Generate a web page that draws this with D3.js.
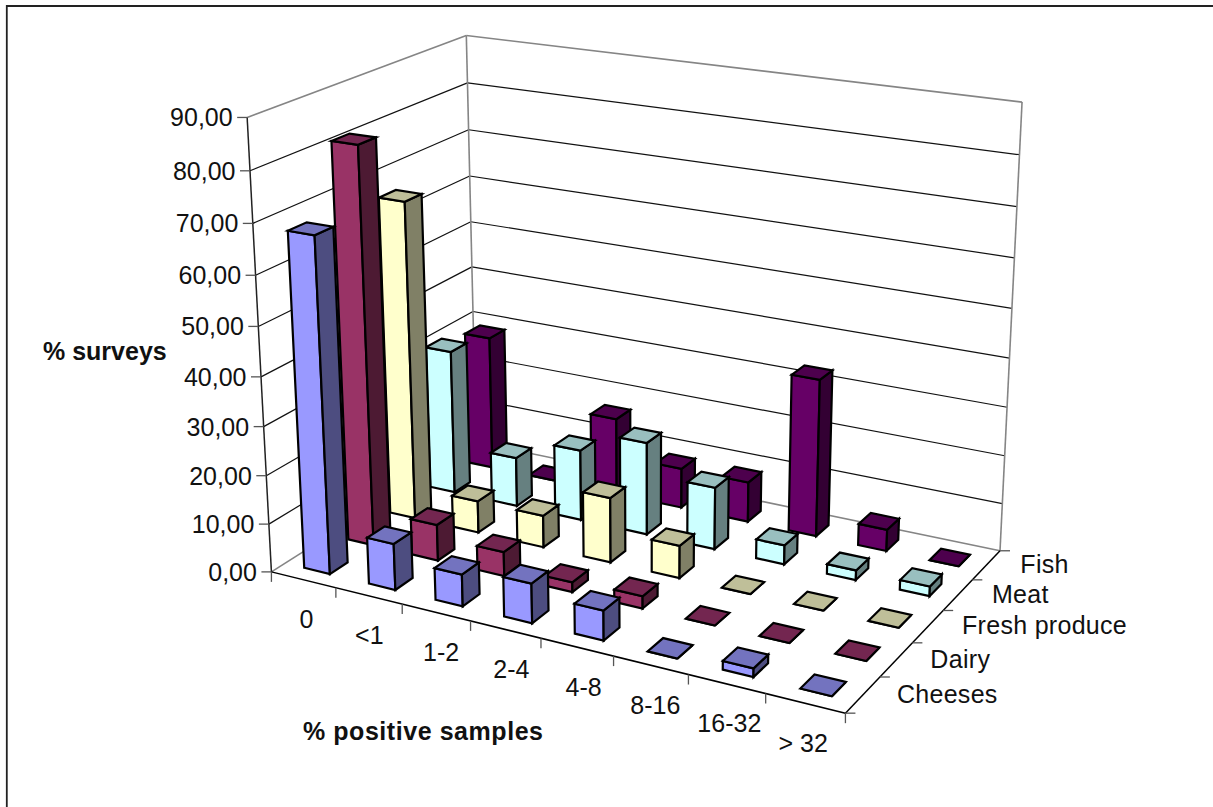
<!DOCTYPE html>
<html>
<head>
<meta charset="utf-8">
<script src="https://cdn.jsdelivr.net/npm/d3@7"></script>
<style>
  html, body { margin: 0; padding: 0; background: #fff; }
  svg { display: block; }
  text { font-family: "Liberation Sans", Arial, sans-serif; fill: #111; }
</style>
</head>
<body>
<svg id="chart" width="1213" height="807"></svg>
<script>
// Chart content
const categories = ["0", "<1", "1-2", "2-4", "4-8", "8-16", "16-32", "> 32"];
const seriesNames = ["Cheeses", "Dairy", "Fresh produce", "Meat", "Fish"];
const cheeses = [68, 9.5, 6.5, 8, 6, 0, 1.7, 0];
const dairy = [81.5, 7.5, 5, 2, 2.5, 0, 0, 0];
const freshProduce = [66.5, 6.7, 6.7, 13.5, 6.7, 0, 0, 0];
const meat = [30.8, 10.5, 15, 19.5, 13, 4, 2, 2];
const fish = [29, 0, 16.5, 8.5, 8.5, 33, 4.5, 0];
const seriesValues = [cheeses, dairy, freshProduce, meat, fish];
const valueTicks = [0, 10, 20, 30, 40, 50, 60, 70, 80, 90];
const frontColors = ["#9999FF", "#993366", "#FFFFCC", "#CCFFFF", "#660066"];
const sideColors = ["#4D4D80", "#4D1A33", "#808066", "#668080", "#330033"];
const topColors = ["#7373BF", "#732650", "#BFBF99", "#99BFBF", "#4D004D"];

const svg = d3.select("#chart");

// Scales from data space into the unit box of the plot
const uScale = d3.scaleLinear().domain([0, categories.length]).range([0, 1]);
const vScale = d3.scaleLinear().domain([0, seriesNames.length]).range([0, 1]);
const hScale = d3.scaleLinear().domain([0, 90]).range([0, 1]);

// Perspective camera: screen positions of the box corners [u, v, h, x, y]
const boxCorners = [
  [0, 0, 0, 271.5, 572], [0, 0, 1, 247, 117.5],
  [0, 1, 0, 476, 442],   [0, 1, 1, 466.5, 35.5],
  [1, 1, 0, 1000, 551],  [1, 1, 1, 1022, 102],
  [1, 0, 0, 845.5, 713]
];

function solve(A, b) {
  const n = b.length;
  const M = A.map((row, i) => [...row, b[i]]);
  for (let c = 0; c < n; c++) {
    let pivot = c;
    for (let r = c + 1; r < n; r++) if (Math.abs(M[r][c]) > Math.abs(M[pivot][c])) pivot = r;
    [M[c], M[pivot]] = [M[pivot], M[c]];
    for (let r = 0; r < n; r++) {
      if (r === c) continue;
      const f = M[r][c] / M[c][c];
      for (let k = c; k <= n; k++) M[r][k] -= f * M[c][k];
    }
  }
  return M.map((row, i) => row[n] / row[i]);
}

function fitCamera(points) {
  const rows = [], rhs = [];
  for (const [u, v, h, x, y] of points) {
    const sx = x / 1000, sy = y / 1000;
    rows.push([u, v, h, 1, 0, 0, 0, 0, -sx * u, -sx * v, -sx * h]); rhs.push(sx);
    rows.push([0, 0, 0, 0, u, v, h, 1, -sy * u, -sy * v, -sy * h]); rhs.push(sy);
  }
  const n = 11;
  const AtA = d3.range(n).map(i => d3.range(n).map(j => d3.sum(rows, r => r[i] * r[j])));
  const Atb = d3.range(n).map(i => d3.sum(rows, (r, k) => r[i] * rhs[k]));
  return solve(AtA, Atb);
}

const cam = fitCamera(boxCorners);

// Project box coordinates to the screen
function project(u, v, h) {
  const w = cam[8] * u + cam[9] * v + cam[10] * h + 1;
  return [
    1000 * (cam[0] * u + cam[1] * v + cam[2] * h + cam[3]) / w,
    1000 * (cam[4] * u + cam[5] * v + cam[6] * h + cam[7]) / w
  ];
}

const poly = d3.line();
const closed = pts => poly(pts) + "Z";
const segment = (g, a, b, color, width) => g.append("line")
  .attr("x1", a[0]).attr("y1", a[1]).attr("x2", b[0]).attr("y2", b[1])
  .attr("stroke", color).attr("stroke-width", width);

// Frame: only the top and left edges fall inside the page
const frame = svg.append("g");
segment(frame, [6, 6], [1213, 6], "#222", 1.8);
segment(frame, [6.8, 5], [6.8, 807], "#222", 1.8);

// Walls and gridlines
const walls = svg.append("g");
const GRAY = "#858585";
valueTicks.slice(1, -1).forEach(t => {
  const h = hScale(t);
  segment(walls, project(0, 0, h), project(0, 1, h), "#111", 1.2);
  segment(walls, project(0, 1, h), project(1, 1, h), "#111", 1.2);
});
segment(walls, project(0, 0, 1), project(0, 1, 1), GRAY, 1.6);
segment(walls, project(0, 1, 1), project(1, 1, 1), GRAY, 1.6);
segment(walls, project(0, 1, 0), project(0, 1, 1), GRAY, 1.6);
segment(walls, project(1, 1, 0), project(1, 1, 1), GRAY, 1.6);
segment(walls, project(0, 0, 0), project(0, 1, 0), GRAY, 1.6);
segment(walls, project(0, 1, 0), project(1, 1, 0), GRAY, 1.6);

// Axis lines and ticks
const axes = svg.append("g");
const TICK = "#555";
segment(axes, project(0, 0, 0), project(0, 0, 1), "#222", 1.5);
segment(axes, project(0, 0, 0), project(1, 0, 0), "#000", 1.5);
segment(axes, project(1, 0, 0), project(1, 1, 0), "#000", 1.5);

const LABEL_SIZE = 25;
valueTicks.forEach(t => {
  const p = project(0, 0, hScale(t));
  segment(axes, [p[0] - 10, p[1]], p, TICK, 1.3);
  axes.append("text").attr("x", p[0] - 14.5).attr("y", p[1] + 9)
    .attr("text-anchor", "end").attr("font-size", LABEL_SIZE)
    .text(d3.format(".2f")(t).replace(".", ","));
});

const catLabelDx = d3.scaleLinear().domain([0, 1, 2, 4, 6, 7]).range([3, 0.5, 5, 6.7, 2.6, -2]);
d3.range(categories.length + 1).forEach(i => {
  const p = project(uScale(i), 0, 0);
  segment(axes, p, [p[0], p[1] + 10], TICK, 1.3);
});
categories.forEach((c, i) => {
  const p = project(uScale(i + 0.5), 0, 0);
  axes.append("text").attr("x", p[0] + catLabelDx(i)).attr("y", p[1] + 48.5)
    .attr("text-anchor", "middle").attr("font-size", LABEL_SIZE).text(c);
});

d3.range(seriesNames.length + 1).forEach(j => {
  const p = project(1, vScale(j), 0);
  segment(axes, p, [p[0] + 10, p[1]], TICK, 1.3);
});
seriesNames.forEach((s, j) => {
  const p = project(1, vScale(j + 0.5), 0);
  axes.append("text").attr("x", p[0] + 34).attr("y", p[1] + 8)
    .attr("font-size", LABEL_SIZE).attr("letter-spacing", 0.3).text(s);
});

// Bars, drawn from the far row to the near one and from left to right
const BAR = 0.4;
const bars = [];
for (let j = seriesNames.length - 1; j >= 0; j--) {
  seriesValues[j].forEach((value, i) => bars.push({ i, j, value }));
}

const barGroups = svg.append("g").selectAll("g").data(bars).join("g")
  .attr("stroke", "#000").attr("stroke-width", 2.2).attr("stroke-linejoin", "miter");

const corners = d => {
  const u0 = uScale(d.i + 0.5 - BAR / 2), u1 = uScale(d.i + 0.5 + BAR / 2);
  const v0 = vScale(d.j + 0.5 - BAR / 2), v1 = vScale(d.j + 0.5 + BAR / 2);
  const h = hScale(d.value);
  return { u0, u1, v0, v1, h };
};

barGroups.append("path").attr("fill", d => frontColors[d.j]).attr("d", d => {
  const c = corners(d);
  return closed([project(c.u0, c.v0, 0), project(c.u1, c.v0, 0), project(c.u1, c.v0, c.h), project(c.u0, c.v0, c.h)]);
});
barGroups.append("path").attr("fill", d => sideColors[d.j]).attr("d", d => {
  const c = corners(d);
  return closed([project(c.u1, c.v0, 0), project(c.u1, c.v1, 0), project(c.u1, c.v1, c.h), project(c.u1, c.v0, c.h)]);
});
barGroups.append("path").attr("fill", d => topColors[d.j]).attr("d", d => {
  const c = corners(d);
  return closed([project(c.u0, c.v0, c.h), project(c.u1, c.v0, c.h), project(c.u1, c.v1, c.h), project(c.u0, c.v1, c.h)]);
});

// Axis titles
svg.append("text").attr("x", 43).attr("y", 360).attr("font-size", 25)
  .attr("font-weight", "bold").text("% surveys");
svg.append("text").attr("x", 303).attr("y", 740).attr("font-size", 25)
  .attr("font-weight", "bold").attr("letter-spacing", 0.55).text("% positive samples");
</script>
</body>
</html>
